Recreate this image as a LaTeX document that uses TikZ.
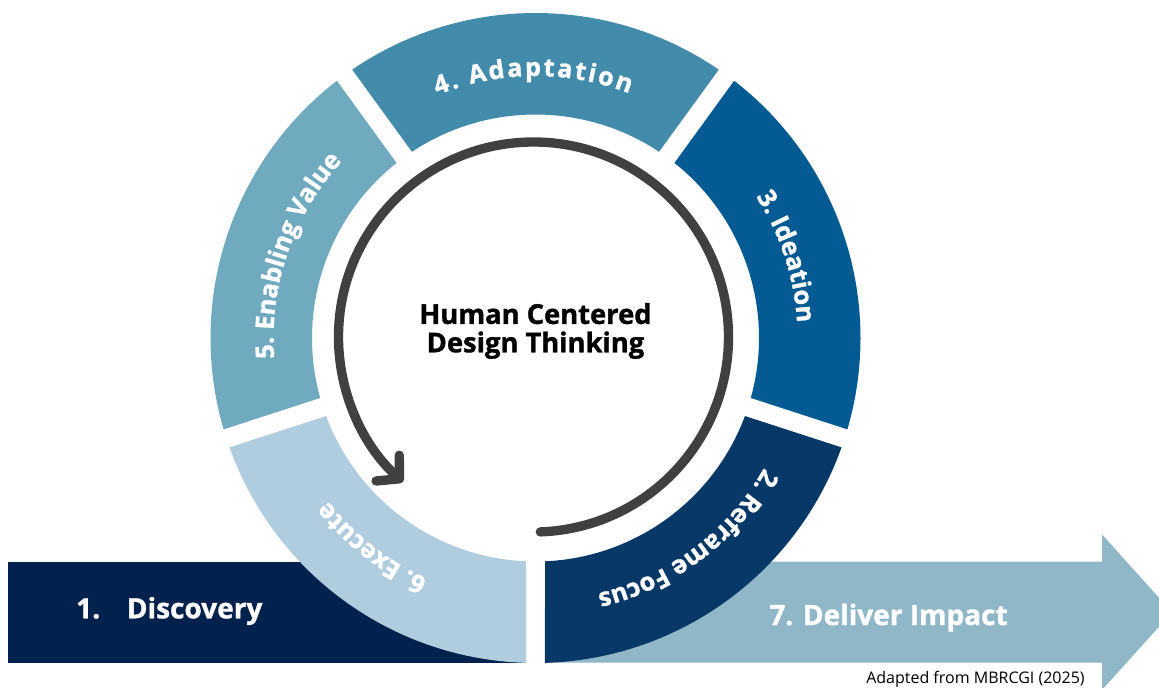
\documentclass[tikz,border=0pt]{standalone}
\usepackage{fontspec}
\setmainfont{Open Sans}[BoldFeatures={FakeBold=1.2}]
\usepackage{xcolor}
\usetikzlibrary{arrows.meta,decorations.text}

\definecolor{discnavy}{RGB}{3,33,77}
\definecolor{impactblue}{RGB}{143,183,200}
\definecolor{segtwo}{RGB}{7,56,104}
\definecolor{segthree}{RGB}{4,91,147}
\definecolor{segfour}{RGB}{66,139,171}
\definecolor{segfive}{RGB}{111,170,191}
\definecolor{segsix}{RGB}{176,204,223}
\definecolor{loopgrey}{RGB}{64,64,64}

\begin{document}
\begin{tikzpicture}[x=0.75pt, y=0.75pt,
    barfont/.style={font=\fontsize{21}{25}\selectfont\bfseries, text=white, inner sep=0pt, anchor=base west},
    seglabel/.style={decorate, decoration={text along path, text color=white, text align=center,
        text={|\fontsize{19}{22}\selectfont\bfseries|#1}}},
    looparrow/.style={draw=loopgrey, line width=7pt, line cap=round,
        -{Straight Barb[length=12pt, width=26pt, round]}}
    ]
    \useasboundingbox (0,0) rectangle (1159,687);
    \clip (0,0) rectangle (1159,687);

    \fill[discnavy] (7.5,24.3) rectangle (525.7,125.3);
    \fill[impactblue] (545,24.3) -- (1102,24.3) -- (1102,-3) -- (1172,74.8)
      -- (1102,152.6) -- (1102,125.3) -- (545,125.3) -- cycle;

    \begin{scope}[shift={(535.5,349)}]
      \foreach \a/\col in {270/segtwo, 342/segthree, 54/segfour, 126/segfive, 198/segsix}
        \fill[\col] ({\a+2.44}:223.5) -- ({\a+1.67}:325)
          arc[start angle=\a+1.67, delta angle=68.66, radius=325]
          -- ({\a+72-2.44}:223.5)
          arc[start angle=\a+72-2.44, delta angle=-67.12, radius=223.5] -- cycle;

      \path[seglabel={2. Reframe Focus}] (341:263) arc[start angle=341, end angle=273, radius=263];
      \path[seglabel={3. Ideation}] (52:262) arc[start angle=52, end angle=-16, radius=262];
      \path[decorate, decoration={text along path, text color=white, text align={fit to path},
          text={|\fontsize{19}{22}\selectfont\bfseries|4. Adaptation}}]
        (112:262) arc[start angle=112, end angle=69, radius=262];
      \path[seglabel={5. Enabling Value}] (195:262) arc[start angle=195, end angle=127, radius=262];
      \path[seglabel={6. Execute}] (266:264) arc[start angle=266, end angle=198, radius=264];
    \end{scope}

    \coordinate (hub) at (533.5,350);
    \draw[looparrow] ([shift={(-88:195)}]hub) arc[start angle=-88, end angle=228, radius=195];

    \node[font=\fontsize{20.5}{21.3}\selectfont\bfseries, align=center] (hcd) at (535.5,356)
      {Human Centered\\Design Thinking};
    \node[barfont] (discovery) at (76,68.7) {1.\hspace{20pt}Discovery};
    \node[barfont] (impact) at (769,62) {7. Deliver Impact};
    \node[font=\fontsize{12}{13}\selectfont, inner sep=0pt, anchor=base west] (source) at (866,4)
      {Adapted from MBRCGI (2025)};
  \end{tikzpicture}
\end{document}
